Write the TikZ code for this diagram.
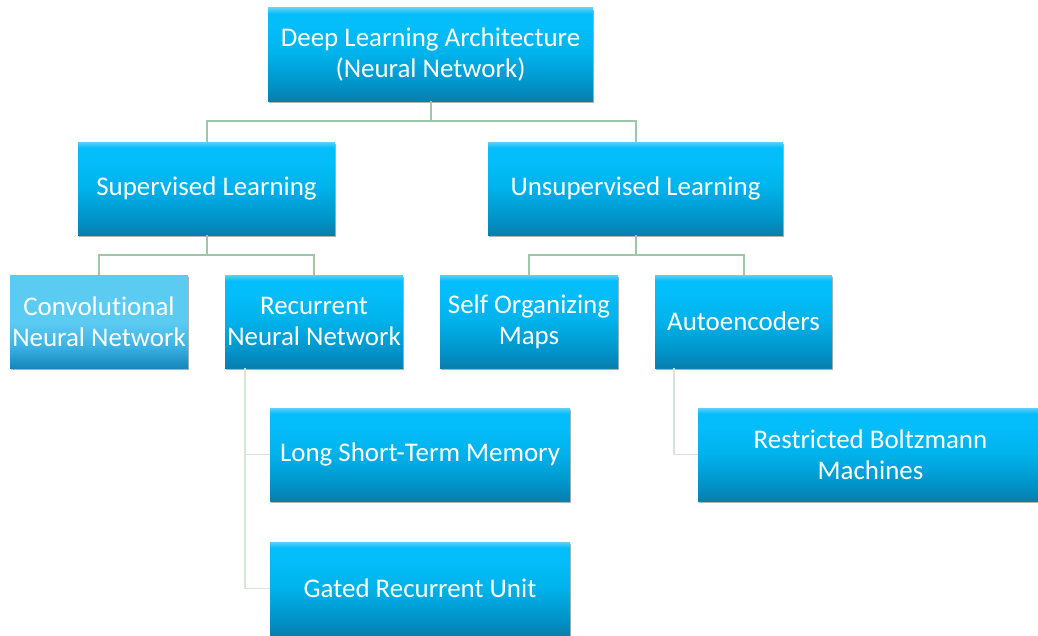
\documentclass[tikz,border=0pt]{standalone}
\usepackage{fontspec}
\setmainfont{Carlito}[Ligatures=NoCommon]
\usetikzlibrary{shadows}
\definecolor{lnk}{HTML}{9CC8A8}
\definecolor{lnklt}{HTML}{D3E6D7}
\definecolor{bbot}{HTML}{0A7EAD}
\definecolor{bdark}{HTML}{0092C6}
\definecolor{bmid}{HTML}{00B2EA}
\definecolor{bbright}{HTML}{04BEFB}
\definecolor{btop}{HTML}{5CCFF6}
\definecolor{cbot}{HTML}{1587BA}
\definecolor{cmid}{HTML}{3DB3E5}
\definecolor{ctop}{HTML}{5CCBF2}
\pgfdeclareverticalshading{boxshade}{100bp}{color(0bp)=(bbot); color(25bp)=(bbot); color(33bp)=(bdark); color(50bp)=(bmid); color(66bp)=(bbright); color(72bp)=(bbright); color(75bp)=(btop); color(100bp)=(btop)}
\pgfdeclareverticalshading{cnnshade}{100bp}{color(0bp)=(cbot); color(25bp)=(cbot); color(37bp)=(cmid); color(50bp)=(ctop); color(75bp)=(ctop); color(100bp)=(ctop)}
\begin{document}
\begin{tikzpicture}[x=0.75pt,y=-0.75pt,
  box/.style={rectangle, shading=boxshade, text=white, align=center,
    font=\fontsize{20.2}{23.3}\selectfont, inner sep=0pt, minimum height=93*0.75pt,
    drop shadow={shadow xshift=1pt, shadow yshift=-1.5pt, opacity=0.3, fill=black}},
  bw/.style={minimum width=#1*0.75pt},
  conn/.style={draw=lnk, line width=1.5pt},
  connlt/.style={draw=lnklt, line width=1.1pt}]
\useasboundingbox (0,0) rectangle (1038,635);
\fill[white] (0,0) rectangle (1038,635);

\node[box, bw=325] (root) at (430.5,54.5) {Deep Learning Architecture\\(Neural Network)};
\node[box, bw=257] (sup) at (206.5,188.5) {Supervised Learning};
\node[box, bw=295] (unsup) at (635.5,188.5) {Unsupervised Learning};
\node[box, bw=178, shading=cnnshade] (cnn) at (99,321.5) {Convolutional\\Neural Network};
\node[box, bw=178] (rnn) at (314,321.5) {Recurrent\\Neural Network};
\node[box, bw=178] (som) at (529,321.5) {Self Organizing\\Maps};
\node[box, bw=177] (auto) at (743.5,321.5) {Autoencoders};
\node[box, bw=300] (lstm) at (420,454.5) {Long Short-Term Memory};
\node[box, bw=300] (gru) at (420,588.5) {Gated Recurrent Unit};
\node[box, bw=345] (rbm) at (870.5,454.5) {Restricted Boltzmann\\Machines};

\coordinate (j1) at (430.5,121);
\coordinate (j2) at (206.5,255);
\coordinate (j3) at (635.5,255);
\coordinate (rv) at (245,368);
\coordinate (av) at (674,368);

\draw[conn] (root.south) -- (j1);
\draw[conn] (j1) -| (sup.north);
\draw[conn] (j1) -| (unsup.north);
\draw[conn] (sup.south) -- (j2);
\draw[conn] (j2) -| (cnn.north);
\draw[conn] (j2) -| (rnn.north);
\draw[conn] (unsup.south) -- (j3);
\draw[conn] (j3) -| (som.north);
\draw[conn] (j3) -| (auto.north);
\draw[connlt] (rv) |- (lstm.west);
\draw[connlt] (rv) |- (gru.west);
\draw[connlt] (av) |- (rbm.west);
\end{tikzpicture}
\end{document}
